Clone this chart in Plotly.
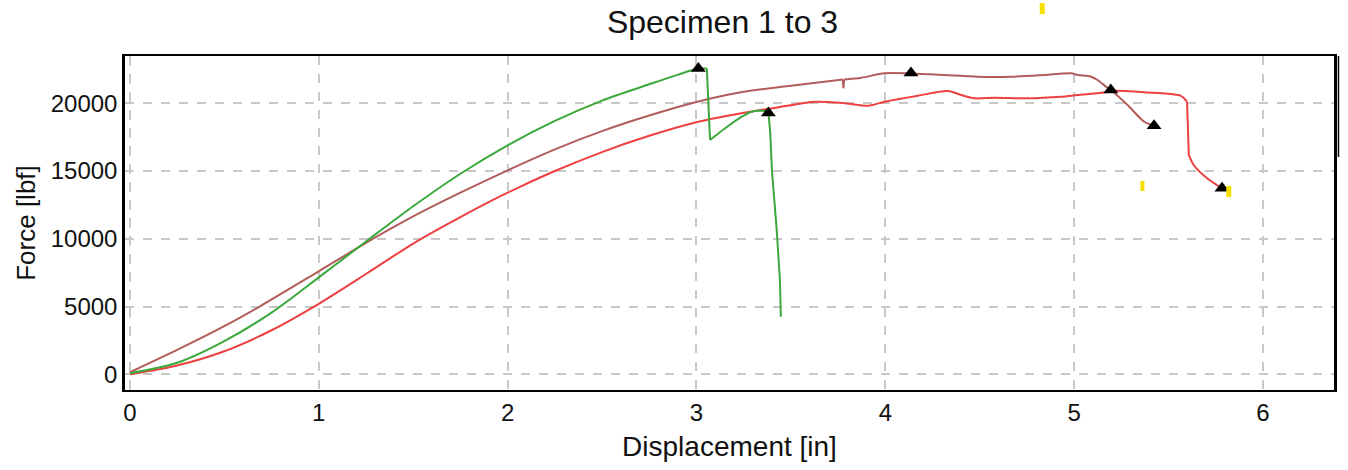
import plotly.graph_objects as go

# Specimen 1 (green)
s1_x = [0.0, 0.25, 0.5, 0.75, 1.0, 1.25, 1.5, 1.75, 2.0, 2.25, 2.5, 2.75, 2.9, 3.01,
        3.055, 3.06, 3.072, 3.152, 3.24, 3.293, 3.363, 3.381,
        3.39, 3.40, 3.413, 3.425, 3.442, 3.447]
s1_y = [80, 850, 2450, 4550, 7150, 9800, 12400, 14800, 16900, 18700, 20200, 21400, 22100, 22560,
        22560, 21000, 17291, 18155, 19011, 19380, 19430, 19290,
        18000, 15000, 12800, 10650, 6960, 4250]

# Specimen 2 (brown)
s2_x = [0.0, 0.25, 0.5, 0.687, 1.0, 1.25, 1.5, 1.75, 2.0, 2.25, 2.5, 2.75, 3.0, 3.25, 3.5,
        3.775, 3.778, 3.782, 3.874, 3.997, 4.136, 4.314, 4.49, 4.666, 4.842, 4.983,
        5.018, 5.089, 5.124, 5.168, 5.194, 5.283, 5.371, 5.423]
s2_y = [150, 1800, 3550, 5000, 7600, 9700, 11650, 13400, 15050, 16600, 17950, 19100, 20100,
        20850, 21300, 21750, 21107, 21750, 21890, 22214, 22200, 22090, 21964, 21964, 22090,
        22214, 22090, 21964, 21720, 21230, 20981, 19874, 18640, 18346]

# Specimen 3 (red)
s3_x = [0.0, 0.25, 0.5, 0.75, 1.0, 1.25, 1.5, 1.75, 2.0, 2.25, 2.5, 2.75, 3.0, 3.25, 3.5,
        3.61, 3.787, 3.91, 3.997, 4.173, 4.332, 4.402, 4.472, 4.578, 4.754, 4.93, 5.018,
        5.168, 5.194, 5.371, 5.563, 5.598, 5.607, 5.633, 5.704, 5.783]
s3_y = [0, 650, 1700, 3250, 5200, 7400, 9650, 11600, 13400, 15000, 16400, 17600, 18600,
        19300, 19850, 20100, 20000, 19823, 20119, 20561, 20907, 20612, 20370, 20414, 20370,
        20487, 20612, 20811, 20907, 20811, 20561, 20119, 16185, 15447, 14465, 13727]

# Failure / break points marked with triangles
mark_x = [3.01, 3.381, 4.136, 5.194, 5.423, 5.783]
mark_y = [22560, 19290, 22236, 20981, 18346, 13727]

x_ticks = [0, 1, 2, 3, 4, 5, 6]
y_ticks = [0, 5000, 10000, 15000, 20000]

FONT = "Liberation Sans, Arial, sans-serif"
GRID = "rgb(200,200,200)"

fig = go.Figure()


def add_curve(xs, ys, color, name, breaks):
    # smooth the loading segments, keep sudden drops straight
    cuts = [0] + breaks + [len(xs) - 1]
    for k in range(len(cuts) - 1):
        a, b = cuts[k], cuts[k + 1]
        smooth = k % 2 == 0
        fig.add_trace(go.Scatter(
            x=xs[a:b + 1], y=ys[a:b + 1], mode="lines", name=name, showlegend=False,
            line=dict(color=color, width=2, shape="spline" if smooth else "linear",
                      smoothing=0.8 if smooth else 0)))


add_curve(s2_x, s2_y, "rgb(178,92,92)", "Specimen 2", [15, 17])
add_curve(s3_x, s3_y, "rgb(238,64,64)", "Specimen 3", [31, 32])
add_curve(s1_x, s1_y, "rgb(58,168,58)", "Specimen 1", [14, 16, 21])
fig.add_trace(go.Scatter(x=mark_x, y=mark_y, mode="markers",
                         marker=dict(symbol="triangle-up", size=13, color="black"),
                         name="Break", showlegend=False))

W, H = 1348, 470
L, R, T, B = 125, 11, 56, 80


def px(x):
    return (x - L) / (W - L - R)


def py(y):
    return (H - B - y) / (H - T - B)


shapes = [
    # secondary frame edge on the right
    dict(type="line", xref="paper", yref="paper", x0=px(1341.5), x1=px(1341.5),
         y0=py(56), y1=py(157), line=dict(color="black", width=1.5)),
]
# small yellow ticks
for (x0, x1, y0, y1) in [(1042, 1047, 3, 14), (1143, 1147, 181, 191), (1229, 1234, 186, 197)]:
    shapes.append(dict(type="rect", xref="paper", yref="paper",
                       x0=px(x0), x1=px(x1), y0=py(y1), y1=py(y0),
                       fillcolor="rgb(245,225,0)", line=dict(width=0)))

fig.update_layout(
    width=W, height=H,
    margin=dict(l=L, r=R, t=T, b=B),
    paper_bgcolor="white", plot_bgcolor="white",
    showlegend=False,
    font=dict(family=FONT, color="#111111"),
    title=dict(text="Specimen 1 to 3", font=dict(size=32, family=FONT, color="#111111"),
               x=0.536, xref="container", xanchor="center",
               y=1 - 22 / H, yref="container", yanchor="middle"),
    shapes=shapes,
)
fig.update_xaxes(range=[-0.026, 6.376], tickvals=x_ticks, ticktext=[str(v) for v in x_ticks],
                 tickfont=dict(size=24), showgrid=True, gridcolor=GRID,
                 griddash="dash", gridwidth=1.5, zeroline=False,
                 showline=True, linecolor="black", linewidth=2, mirror=True, ticks="",
                 title=dict(text="Displacement [in]", font=dict(size=28), standoff=12))
fig.update_yaxes(range=[-1159, 23490], tickvals=y_ticks, ticktext=[str(v) for v in y_ticks],
                 tickfont=dict(size=24), showgrid=True, gridcolor=GRID,
                 griddash="dash", gridwidth=1.5, zeroline=False,
                 showline=True, linecolor="black", linewidth=2.5, mirror=True, ticks="",
                 title=dict(text="Force [lbf]", font=dict(size=26), standoff=8))
# dashed grid line along x = 0
fig.add_vline(x=0, line=dict(color=GRID, dash="dash", width=1.5), layer="below")

fig.write_html("out.html")
